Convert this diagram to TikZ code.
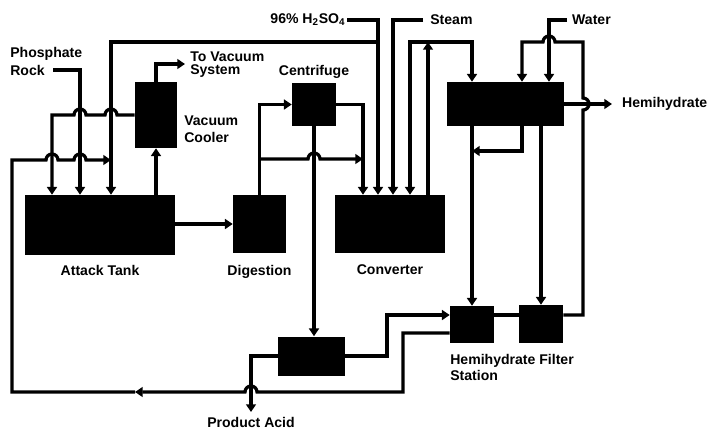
\documentclass[tikz,border=0pt]{standalone}
\usepackage{fontspec}
\setmainfont{Liberation Sans}
\usetikzlibrary{positioning,arrows.meta}
\tikzset{
  pipe/.style  ={line width=2.3pt},
  flow/.style  ={pipe, -{Triangle[length=5.5pt,width=7pt]}},
  vessel/.style={fill=black, inner sep=0pt},
  tag/.style   ={font=\bfseries\fontsize{10}{11.5}\selectfont, inner sep=0pt},
}
% line jumps: right, left, up
\newcommand{\hoprad}{6}
\newcommand{\hopr}[2]{-- ({#1-\hoprad},#2) arc[start angle=180,end angle=360,radius=\hoprad]}
\newcommand{\hopl}[2]{-- ({#1+\hoprad},#2) arc[start angle=0,end angle=-180,radius=\hoprad]}
\newcommand{\hopu}[2]{-- (#1,{#2+\hoprad}) arc[start angle=90,end angle=-90,radius=\hoprad]}

\begin{document}
\begin{tikzpicture}[x=0.025cm,y=-0.025cm]
  \useasboundingbox[fill=white] (0,0) rectangle (709,430);
  % vessels
  \node[vessel,minimum width=3.75cm,minimum height=1.5cm]   (attack) at (100,225) {};
  \node[vessel,minimum width=1.05cm,minimum height=1.65cm]  (cooler) at (156,115) {};
  \node[vessel,minimum width=1.325cm,minimum height=1.45cm] (digest) at (259.5,224) {};
  \node[vessel,minimum width=1.1cm,minimum height=1.075cm]  (centri) at (314,104.5) {};
  \node[vessel,minimum width=2.75cm,minimum height=1.45cm]  (conv)   at (390,224) {};
  \node[vessel,minimum width=2.925cm,minimum height=1.1cm]  (sep)    at (505.5,104) {};
  \node[vessel,minimum width=1.675cm,minimum height=0.975cm](neut)   at (311.5,356) {};
  \node[vessel,minimum width=1.1cm,minimum height=0.925cm]  (filtA)  at (472,324.5) {};
  \node[vessel,minimum width=1.1cm,minimum height=0.95cm]   (filtB)  at (541,324) {};
  % free ends and junctions
  \coordinate (rock)      at (53,70);
  \coordinate (vac)       at (185,64);
  \coordinate (acid)      at (347,20);
  \coordinate (steam)     at (423,20);
  \coordinate (water)     at (567,20);
  \coordinate (hemi)      at (612,104);
  \coordinate (acidsplit) at (378,42);
  \coordinate (convtop)   at (428,42);
  \coordinate (digsplit)  at (259.5,159);
  \coordinate (retmid)    at (135,392);
  \coordinate (prod)      at (251,412);
  % labels
  \node[tag,anchor=north west,align=left] (rocklbl) at (10,47) {Phosphate\\[1pt]Rock};
  \node[tag,anchor=north west,align=left] (vaclbl) at (190,52) {To Vacuum\\[-2.3pt]System};
  \node[tag,anchor=north west,align=left] (coollbl) at (184,116) {Vacuum\\Cooler};
  \node[tag,above=3pt of centri] (centrilbl) {Centrifuge};
  \node[tag,left=1pt of acid] (acidlbl) {96\% H\textsubscript{2}SO\textsubscript{4}};
  \node[tag,right=5pt of steam] (steamlbl) {Steam};
  \node[tag,right=3.5pt of water] (waterlbl) {Water};
  \node[tag,right=7pt of hemi] (hemilbl) {Hemihydrate};
  \node[tag,below=7pt of attack] (attacklbl) {Attack Tank};
  \node[tag,below=8pt of digest] (digestlbl) {Digestion};
  \node[tag,below=8pt of conv] (convlbl) {Converter};
  \node[tag,anchor=north west,align=left] (filtlbl) at (450,354) {Hemihydrate Filter\\Station};
  \node[tag,below=3.5pt of prod] (prodlbl) {Product Acid};
  % attack tank feeds
  \draw[flow] (rock) -| (attack.north -| 80,0);
  \draw[flow] (cooler.west) \hopl{111}{115} \hopl{80}{115} -- (52,115) -- (attack.north -| 52,0);
  \draw[flow] (acidsplit) -| (attack.north -| 111,0);
  \draw[flow] (cooler.south |- attack.north) -- (cooler.south);
  \draw[flow] (cooler.north) |- (vac);
  \draw[flow] (digest.west -| attack.east) -- (digest.west);
  % digestion, centrifuge, converter
  \draw[flow] (digest.north) |- (centri.west);
  \draw[flow] (digsplit) \hopr{314}{159} -- (363,159);
  \draw[flow] (centri.east) -| (conv.north -| 363,0);
  \draw[flow] (centri.south) -- (centri.south |- neut.north);
  \draw[flow] (acid) -| (conv.north -| 378,0);
  \draw[flow] (steam) -| (conv.north -| 393,0);
  \draw[flow] (conv.north -| convtop) -- (convtop);
  \draw[flow] (convtop) -| (conv.north -| 410,0);
  \draw[flow] (convtop) -| (sep.north -| 472,0);
  % separator and filters
  \draw[flow] (water) -| (sep.north -| 549,0);
  \draw[flow] (sep.east) -- (hemi);
  \draw[flow] (sep.south -| filtA.north) -- (filtA.north);
  \draw[flow] (sep.south -| filtB.north) -- (filtB.north);
  \draw[flow] (sep.south -| 522,0) |- (filtA.north |- 0,151);
  \draw[pipe] (filtA.east |- 0,315) -- (filtB.west |- 0,315);
  \draw[flow] (filtB.east |- 0,315) -- (583,315) \hopu{583}{104} -- (583,42) \hopl{549}{42} -- (522,42) -- (sep.north -| 522,0);
  \draw[flow] (neut.east) -| (387,315) -- (filtA.west |- 0,315);
  % return acid and product
  \draw[flow] (filtA.west |- 0,333) -| (403,392) \hopl{251}{392} -- (retmid);
  \draw[flow] (retmid) -- (12,392) -- (12,160) \hopr{52}{160} \hopr{80}{160} -- (111,160);
  \draw[flow] (neut.west) -| (prod);
\end{tikzpicture}
\end{document}
